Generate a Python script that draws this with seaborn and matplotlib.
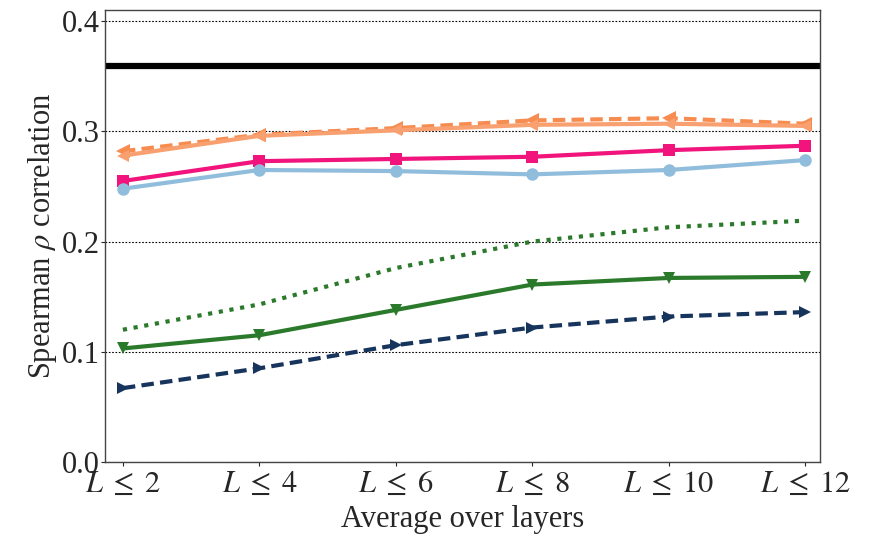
import matplotlib
matplotlib.use("Agg")
import matplotlib.pyplot as plt
import seaborn as sns
import pandas as pd

# data
layers = ["$L \\;\\leq\\; 2$", "$L \\;\\leq\\; 4$", "$L \\;\\leq\\; 6$",
          "$L \\;\\leq\\; 8$", "$L \\;\\leq\\; 10$", "$L \\;\\leq\\; 12$"]
baseline = 0.359
orange_dashed = [0.282, 0.297, 0.303, 0.310, 0.312, 0.307]
orange_solid = [0.278, 0.296, 0.301, 0.306, 0.307, 0.305]
pink = [0.255, 0.273, 0.275, 0.277, 0.283, 0.287]
light_blue = [0.248, 0.265, 0.264, 0.261, 0.265, 0.274]
green_dotted = [0.120, 0.143, 0.176, 0.200, 0.213, 0.219]
green_solid = [0.103, 0.115, 0.138, 0.161, 0.167, 0.168]
navy_dashed = [0.067, 0.085, 0.106, 0.122, 0.132, 0.136]

sns.set_style("white")
plt.rcParams["font.family"] = ["Liberation Serif", "DejaVu Serif"]
plt.rcParams["mathtext.fontset"] = "stix"

fig = plt.figure(figsize=(8.69, 5.39), dpi=100)
ax = fig.add_axes([0.121, 0.143, 0.823, 0.838])

x = list(range(len(layers)))
series = [
    (orange_dashed, "#f78c50", (0, (3, 1.5)), "<", 10),
    (orange_solid, "#f9a070", "-", "<", 8),
    (pink, "#f0147c", "-", "s", 9),
    (light_blue, "#91bddc", "-", "o", 9),
    (green_dotted, "#2b7a2b", (0, (1, 1.6)), None, 0),
    (green_solid, "#2b7a2b", "-", "v", 9),
    (navy_dashed, "#17345c", (0, (3, 1.5)), ">", 9),
]
for vals, col, ls, mk, ms in series:
    d = pd.DataFrame({"x": x, "y": vals})
    sns.lineplot(data=d, x="x", y="y", ax=ax, color=col, linestyle=ls,
                 marker=mk, markersize=ms, markeredgewidth=0, linewidth=3.0)

ax.axhline(baseline, color="black", linewidth=4.5)

ax.set_ylim(0, 0.41)
ax.set_xlim(-0.13, 5.11)
ax.set_yticks([0.0, 0.1, 0.2, 0.3, 0.4])
ax.set_yticklabels(["0.0", "0.1", "0.2", "0.3", "0.4"])
ax.set_xticks(x)
ax.set_xticklabels(layers)
ax.yaxis.grid(True, linestyle=(0, (1.5, 1.5)), color="black", linewidth=0.8)
ax.xaxis.grid(False)
ax.tick_params(axis="both", labelsize=22, length=3, width=0.8, left=True, bottom=True, pad=1)
ax.tick_params(axis="x", pad=3)
ax.set_xlabel("Average over layers", fontsize=22, labelpad=4)
ax.set_ylabel("Spearman $\\rho$ correlation", fontsize=22, labelpad=2)
for s in ax.spines.values():
    s.set_color("#444444")
    s.set_linewidth(1.0)

plt.savefig("out.png", dpi=100)
plt.close()
